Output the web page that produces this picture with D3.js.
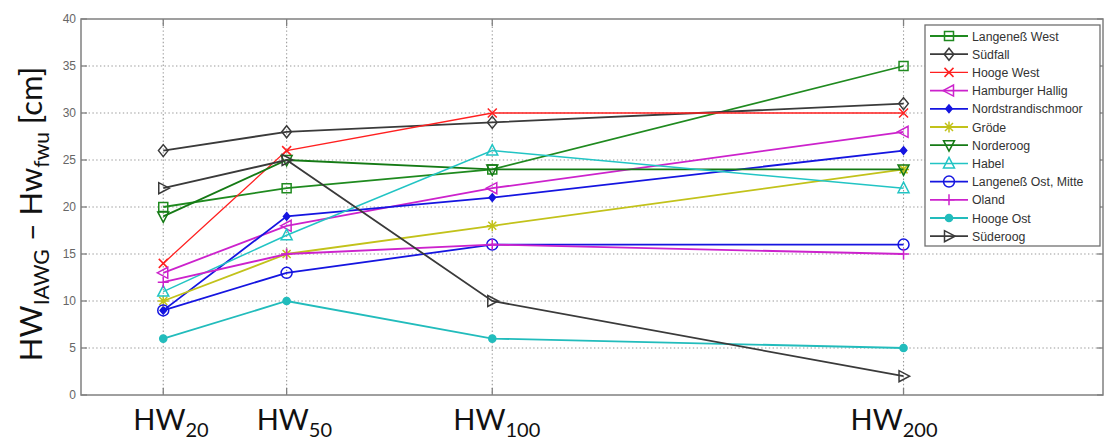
<!DOCTYPE html>
<html>
<head>
<meta charset="utf-8">
<script src="https://cdn.jsdelivr.net/npm/d3@7"></script>
<style>
    body { margin: 0; background: #fff; }
    .grid line { stroke: #999; stroke-dasharray: 1.4, 2.4; stroke-width: 1.1; }
    .tick-label { font-family: 'Liberation Sans', Arial, sans-serif; font-size: 12px; fill: #666; }
    .big-label { font-family: Lato, 'Open Sans', sans-serif; fill: #111; }
    .legend-text { font-family: 'Liberation Sans', Arial, sans-serif; font-size: 12.3px; fill: #333; }
</style>
</head>
<body>
<div id="chart"></div>
<script>
// return periods on the x axis
const returnPeriods = [20, 50, 100, 200];
const xTickLabels = ['20', '50', '100', '200'];
const yTicks = [0, 5, 10, 15, 20, 25, 30, 35, 40];

const seriesNames = ['Langeneß West', 'Südfall', 'Hooge West', 'Hamburger Hallig', 'Nordstrandischmoor',
    'Gröde', 'Norderoog', 'Habel', 'Langeneß Ost, Mitte', 'Oland', 'Hooge Ost', 'Süderoog'];

const langenessWest = [20, 22, 24, 35];
const suedfall = [26, 28, 29, 31];
const hoogeWest = [14, 26, 30, 30];
const hamburgerHallig = [13, 18, 22, 28];
const nordstrandischmoor = [9, 19, 21, 26];
const groede = [10, 15, 18, 24];
const norderoog = [19, 25, 24, 24];
const habel = [11, 17, 26, 22];
const langenessOst = [9, 13, 16, 16];
const oland = [12, 15, 16, 15];
const hoogeOst = [6, 10, 6, 5];
const suederoog = [22, 25, 10, 2];

const seriesValues = [langenessWest, suedfall, hoogeWest, hamburgerHallig, nordstrandischmoor,
    groede, norderoog, habel, langenessOst, oland, hoogeOst, suederoog];

// line colour, marker type, line width
const styles = [
    { color: '#1f8a1f', marker: 'square', lw: 1.8 },
    { color: '#3a3a3a', marker: 'diamond', lw: 1.8 },
    { color: '#ff2020', marker: 'x', lw: 1.3 },
    { color: '#cc22cc', marker: 'triLeft', lw: 1.8 },
    { color: '#1515e0', marker: 'dot', lw: 1.8 },
    { color: '#c2c21a', marker: 'star', lw: 1.8 },
    { color: '#157a15', marker: 'triDown', lw: 1.8 },
    { color: '#22c4c4', marker: 'triUp', lw: 1.5 },
    { color: '#1515e0', marker: 'circle', lw: 1.8 },
    { color: '#cc22cc', marker: 'plus', lw: 1.8 },
    { color: '#22bcbc', marker: 'filled', lw: 1.8 },
    { color: '#3a3a3a', marker: 'triRight', lw: 1.8 }
];

const W = 1104, H = 444;
const plot = { left: 81, right: 1103, top: 19, bottom: 395 };
// the HW labels were placed by hand in the original, so nudge them a bit
const labelNudge = [-30, -30, -39, -53];

const x = d3.scaleLinear().domain([0, 248.5]).range([plot.left, plot.right]);
const y = d3.scaleLinear().domain([0, 40]).range([plot.bottom, plot.top]);

const svg = d3.select('#chart').append('svg')
    .attr('width', W)
    .attr('height', H);

// dotted grid
const grid = svg.append('g').attr('class', 'grid');
grid.selectAll('.hg').data(yTicks.slice(1, -1)).enter().append('line')
    .attr('x1', plot.left).attr('x2', plot.right)
    .attr('y1', d => y(d)).attr('y2', d => y(d));
grid.selectAll('.vg').data(returnPeriods).enter().append('line')
    .attr('x1', d => x(d)).attr('x2', d => x(d))
    .attr('y1', plot.top).attr('y2', plot.bottom);

// frame + ticks (matlab style, inward on all four sides)
const axisColor = '#808080';
svg.append('rect')
    .attr('x', plot.left).attr('y', plot.top)
    .attr('width', plot.right - plot.left).attr('height', plot.bottom - plot.top)
    .attr('fill', 'none').attr('stroke', axisColor).attr('stroke-width', 1.5);

const ticks = svg.append('g').attr('stroke', axisColor).attr('stroke-width', 1.3);
yTicks.forEach(function(t) {
    ticks.append('line').attr('x1', plot.left).attr('x2', plot.left + 6).attr('y1', y(t)).attr('y2', y(t));
    ticks.append('line').attr('x1', plot.right).attr('x2', plot.right - 6).attr('y1', y(t)).attr('y2', y(t));
});
returnPeriods.forEach(function(t) {
    ticks.append('line').attr('x1', x(t)).attr('x2', x(t)).attr('y1', plot.bottom).attr('y2', plot.bottom - 7);
    ticks.append('line').attr('x1', x(t)).attr('x2', x(t)).attr('y1', plot.top).attr('y2', plot.top + 7);
});

svg.append('g').selectAll('text').data(yTicks).enter().append('text')
    .attr('class', 'tick-label')
    .attr('x', plot.left - 5)
    .attr('y', d => y(d) + 4)
    .attr('text-anchor', 'end')
    .text(d => d);

// x labels: HW with subscript
const xl = svg.append('g').selectAll('text').data(returnPeriods).enter().append('text')
    .attr('class', 'big-label')
    .attr('x', (d, i) => x(d) + labelNudge[i])
    .attr('y', 430)
    .style('font-size', '29px');
xl.append('tspan').text('HW');
xl.append('tspan').attr('dy', 7).style('font-size', '20px').text((d, i) => xTickLabels[i]);

// y axis title
const yt = svg.append('text')
    .attr('class', 'big-label')
    .attr('transform', 'translate(42,' + 214 + ') rotate(-90)')
    .attr('text-anchor', 'middle')
    .style('font-size', '31px');
yt.append('tspan').text('HW');
yt.append('tspan').attr('dy', 7).style('font-size', '21px').text('IAWG');
yt.append('tspan').attr('dy', -7).text(' \u2013 Hw');
yt.append('tspan').attr('dy', 7).style('font-size', '21px').text('fwu');
yt.append('tspan').attr('dy', -7).text(' [cm]');

function markerPath(type) {
    switch (type) {
    case 'square': return 'M-4.5,-4.5H4.5V4.5H-4.5Z';
    case 'diamond': return 'M0,-6L4.8,0L0,6L-4.8,0Z';
    case 'x': return 'M-4.5,-4.5L4.5,4.5M-4.5,4.5L4.5,-4.5';
    case 'plus': return 'M-5.5,0H5.5M0,-5.5V5.5';
    case 'star': return 'M-5.5,0H5.5M0,-5.5V5.5M-4,-4L4,4M-4,4L4,-4';
    case 'triUp': return 'M0,-6L5.5,4.5L-5.5,4.5Z';
    case 'triDown': return 'M0,6L5.5,-4.5L-5.5,-4.5Z';
    case 'triLeft': return 'M-6,0L4.5,-5.5L4.5,5.5Z';
    case 'triRight': return 'M6,0L-4.5,-5.5L-4.5,5.5Z';
    case 'dot': return 'M0,-3.8L3.2,0L0,3.8L-3.2,0Z';
    case 'circle': return d3.symbol(d3.symbolCircle, 95)();
    case 'filled': return d3.symbol(d3.symbolCircle, 40)();
    }
}
function markerFill(st) {
    if (st.marker === 'dot' || st.marker === 'filled') return st.color;
    return 'none';
}

const line = d3.line()
    .x((d, i) => x(returnPeriods[i]))
    .y(d => y(d));

const focus = svg.append('g').attr('class', 'focus');
seriesValues.forEach(function(vals, k) {
    const st = styles[k];
    const g = focus.append('g');
    g.append('path')
        .attr('d', line(vals))
        .attr('fill', 'none')
        .attr('stroke', st.color)
        .attr('stroke-width', st.lw);
    g.selectAll('.m').data(vals).enter().append('path')
        .attr('transform', (d, i) => 'translate(' + x(returnPeriods[i]) + ',' + y(d) + ')')
        .attr('d', markerPath(st.marker))
        .attr('fill', markerFill(st))
        .attr('stroke', st.color)
        .attr('stroke-width', 1.5);
});

// legend
const lg = { x: 925, y: 25, w: 175, h: 221, row: 18.2 };
svg.append('rect')
    .attr('x', lg.x).attr('y', lg.y).attr('width', lg.w).attr('height', lg.h)
    .attr('fill', '#fff').attr('stroke', '#707070').attr('stroke-width', 1.3);
const items = svg.append('g').selectAll('g').data(seriesNames).enter().append('g')
    .attr('transform', (d, i) => 'translate(' + lg.x + ',' + (lg.y + 11 + i * lg.row) + ')');
items.append('line')
    .attr('x1', 5).attr('x2', 43).attr('y1', 0).attr('y2', 0)
    .attr('stroke', (d, i) => styles[i].color)
    .attr('stroke-width', (d, i) => styles[i].lw);
items.append('path')
    .attr('transform', 'translate(24,0)')
    .attr('d', (d, i) => markerPath(styles[i].marker))
    .attr('fill', (d, i) => markerFill(styles[i]))
    .attr('stroke', (d, i) => styles[i].color)
    .attr('stroke-width', 1.5);
items.append('text')
    .attr('class', 'legend-text')
    .attr('x', 47).attr('y', 4.5)
    .text(d => d);
</script>
</body>
</html>
